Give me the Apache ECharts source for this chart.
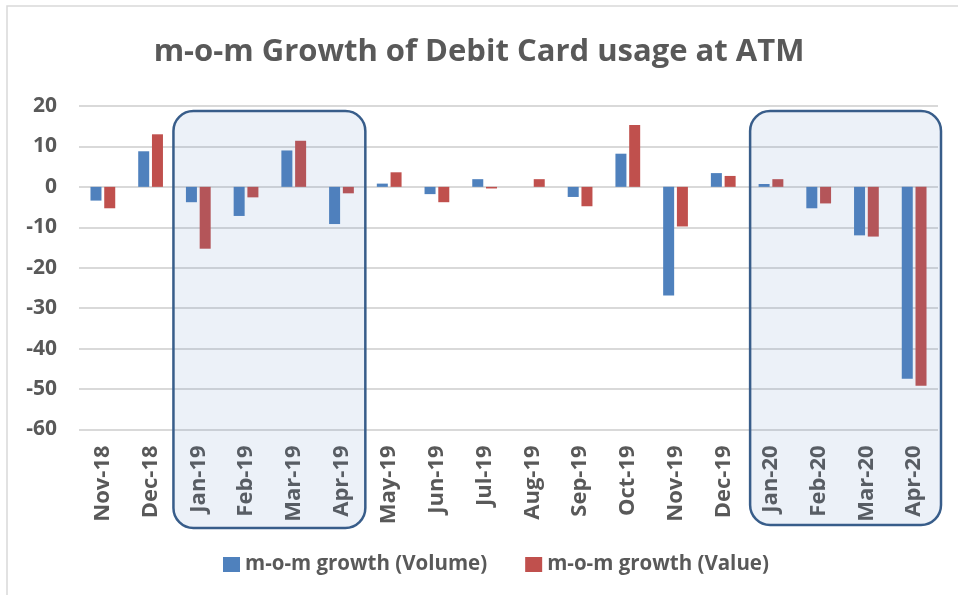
<!DOCTYPE html>
<html>
<head>
<meta charset="utf-8">
<script src="https://cdn.jsdelivr.net/npm/echarts@6/dist/echarts.min.js"></script>
<style>
html,body{margin:0;padding:0;background:#fff;}
#c{width:958px;height:595px;}
</style>
</head>
<body>
<div id="c"></div>
<script>
const categories = ["Nov-18","Dec-18","Jan-19","Feb-19","Mar-19","Apr-19","May-19","Jun-19","Jul-19","Aug-19","Sep-19","Oct-19","Nov-19","Dec-19","Jan-20","Feb-20","Mar-20","Apr-20"];
const volumeGrowth = [-3.4, 8.8, -3.8, -7.2, 9.0, -9.2, 0.8, -1.8, 1.9, 0.0, -2.5, 8.2, -26.9, 3.4, 0.7, -5.3, -12.0, -47.5];
const valueGrowth  = [-5.3, 13.0, -15.3, -2.6, 11.4, -1.6, 3.6, -3.8, -0.4, 1.9, -4.8, 15.3, -9.8, 2.7, 1.9, -4.1, -12.3, -49.2];
const seriesNames = ["m-o-m growth (Volume)", "m-o-m growth (Value)"];
const yTicks = {min: -60, max: 20, interval: 10};
const highlightRanges = [["Jan-19","Apr-19"],["Jan-20","Apr-20"]];

const FONT = "'Open Sans', sans-serif";
const TXT = '#595959';
const chart = echarts.init(document.getElementById('c'), null, {renderer:'canvas'});

const option = {
  animation: false,
  backgroundColor: '#fff',
  title: {
    text: 'm-o-m Growth of Debit Card usage at ATM',
    left: 'center', top: 32,
    textStyle: {fontFamily: FONT, fontWeight: 'bold', fontSize: 31, color: TXT}
  },
  grid: {left: 79, right: 20, top: 106, bottom: 165.6, containLabel: false},
  legend: {
    left: 218, top: 549,
    itemWidth: 17, itemHeight: 15, itemGap: 38,
    icon: 'rect',
    itemStyle: {borderWidth: 0},
    textStyle: {fontFamily: FONT, fontWeight: 'bold', fontSize: 20.5, color: TXT},
    data: seriesNames
  },
  xAxis: {
    type: 'category',
    data: categories,
    axisLine: {show: false, onZero: false},
    axisTick: {show: false},
    axisLabel: {rotate: 90, margin: 16, fontFamily: FONT, fontWeight: 'bold', fontSize: 22, color: TXT, interval: 0}
  },
  yAxis: {
    type: 'value',
    min: yTicks.min, max: yTicks.max, interval: yTicks.interval,
    axisLine: {show: false},
    axisTick: {show: false},
    axisLabel: {margin: 22, fontFamily: FONT, fontWeight: 'bold', fontSize: 21, color: TXT},
    splitLine: {lineStyle: {color: '#D9D9D9', width: 2}}
  },
  series: [
    {name: seriesNames[0], type: 'bar', data: volumeGrowth, barWidth: 11, barGap: '25%',
     itemStyle: {color: '#4F81BD'}},
    {name: seriesNames[1], type: 'bar', data: valueGrowth, barWidth: 11, barGap: '25%',
     itemStyle: {color: '#C0504D'}}
  ]
};
chart.setOption(option);

function drawOverlays(){
  const c0 = chart.convertToPixel({xAxisIndex: 0}, categories[0]);
  const c1 = chart.convertToPixel({xAxisIndex: 0}, categories[1]);
  const step = c1 - c0;
  const offsets = [[-1, 0, 528], [3, 3, 525]];
  const graphics = [{
    type: 'rect', z: 0, silent: true,
    shape: {x: 7, y: 6, width: 1000, height: 700},
    style: {fill: 'none', stroke: '#D9D9D9', lineWidth: 1.5}
  }];
  highlightRanges.forEach((r, i) => {
    const a = chart.convertToPixel({xAxisIndex: 0}, r[0]) - step/2 + offsets[i][0];
    const b = chart.convertToPixel({xAxisIndex: 0}, r[1]) + step/2 + offsets[i][1];
    const top = 111;
    graphics.push({
      type: 'rect', z: 100, silent: true,
      shape: {x: a, y: top, width: b - a, height: offsets[i][2] - top, r: 20},
      style: {fill: 'rgba(79,129,189,0.11)', stroke: '#385D8A', lineWidth: 2.5}
    });
  });
  chart.setOption({graphic: graphics});
}
drawOverlays();
</script>
</body>
</html>
